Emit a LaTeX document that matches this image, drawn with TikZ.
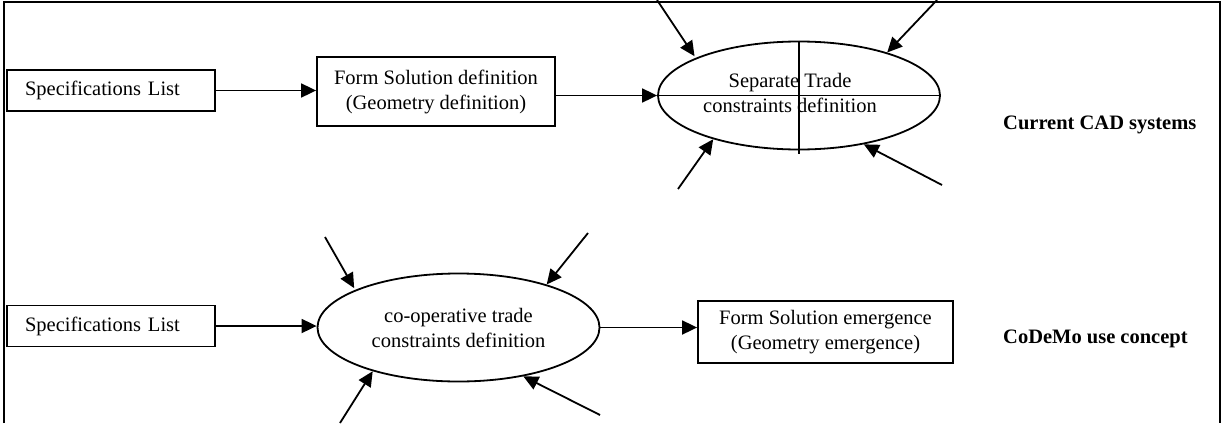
\documentclass[tikz,border=0pt]{standalone}
\usepackage{fontspec}
\setmainfont{Liberation Serif}
\usetikzlibrary{arrows.meta,shapes.geometric}
\tikzset{
  box/.style={draw, line width=1.8pt, rectangle, inner sep=0pt, align=center},
  oval/.style={draw, line width=1.8pt, ellipse, inner sep=0pt, minimum width=282pt, minimum height=108pt, align=center},
  arr/.style={line width=1.8pt, -{Triangle[length=15pt,width=14pt]}},
  plain/.style={line width=1.8pt},
  lbl/.style={font=\fontsize{20.5}{25}\selectfont\bfseries, anchor=west, inner sep=0pt}
}
\begin{document}
\begin{tikzpicture}[x=1pt,y=-1pt,font=\fontsize{20.5}{25}\selectfont]
\useasboundingbox (0,0) rectangle (1225,423);
% frame (no bottom side)
\draw[line width=2.2pt] (4,423) -- (4,2) -- (1220,2) -- (1220,423);

% ---- top row: current CAD systems
\node[box, minimum width=208pt, minimum height=41pt, text width=172pt, align=left] (spec1) at (111,90.5) {Specifications List};
\node[box, minimum width=238pt, minimum height=69pt] (form1) at (436,91.5) {Form Solution definition\\(Geometry definition)};
\node[oval] (ell1) at (799,95.5) {};
\draw[plain] (ell1.west) -- (ell1.east);
\draw[plain] (ell1.north) -- ([yshift=-4pt]ell1.south);
\node[align=center, inner sep=0pt] (txt1) at (790,93) {Separate Trade\\constraints definition};
\draw[arr] (spec1.east) -- (spec1.east -| form1.west);
\draw[arr] (form1.east |- ell1.west) -- (ell1.west);
\coordinate (a1) at (657,0);
\coordinate (a2) at (937,0);
\coordinate (a3) at (678,189);
\coordinate (a4) at (942,185);
\draw[arr, shorten >=2pt] (a1) -- (ell1.160);
\draw[arr] (a2) -- (ell1.26);
\draw[arr] (a3) -- (ell1.207);
\draw[arr] (a4) -- (ell1.323);
\node[lbl] (cad) at (1003,125) {Current CAD systems};

% ---- bottom row: CoDeMo use concept
\node[box, minimum width=208pt, minimum height=41pt, text width=172pt, align=left] (spec2) at (111,326) {Specifications List};
\node[oval] (ell2) at (458.5,327.5) {co-operative trade\\constraints definition};
\node[box, minimum width=255pt, minimum height=62pt] (form2) at (825.5,332) {Form Solution emergence\\(Geometry emergence)};
\draw[arr] (spec2.east) -- (spec2.east -| ell2.west);
\draw[arr] (ell2.east) -- (ell2.east -| form2.west);
\coordinate (b1) at (325,237);
\coordinate (b2) at (588,233);
\coordinate (b3) at (340,423);
\coordinate (b4) at (600,415);
\draw[arr, shorten >=2pt] (b1) -- (ell2.160);
\draw[arr] (b2) -- (ell2.26);
\draw[arr] (b3) -- (ell2.207);
\draw[arr] (b4) -- (ell2.323);
\node[lbl] (codemo) at (1003,339) {CoDeMo use concept};
\end{tikzpicture}
\end{document}
